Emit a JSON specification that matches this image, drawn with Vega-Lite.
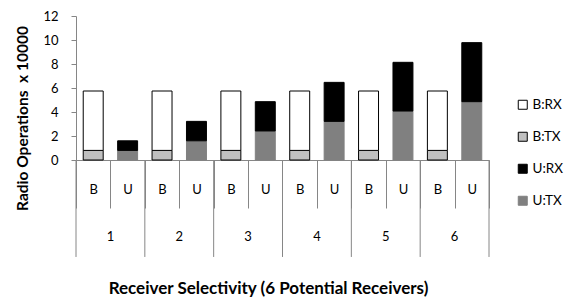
{
  "$schema": "https://vega.github.io/schema/vega-lite/v6.json",
  "width": 413,
  "height": 144,
  "autosize": {"type": "none"},
  "padding": {"left": 76, "top": 16, "right": 80, "bottom": 137},
  "background": "white",
  "config": {
    "view": {"stroke": null},
    "font": "Lato",
    "axis": {"labelFont": "Lato", "titleFont": "Lato", "grid": false},
    "axisY": {"tickCount": 7, "labelOverlap": false, "tickSize": 5, "tickColor": "#868686", "domainColor": "#868686", "labelPadding": 13, "labelFontSize": 13, "labelColor": "#000000"},
    "legend": {"labelFont": "Lato"}
  },
  "data": {
    "values": [
      {"group": 1, "sel": "B", "cat": "1B", "series": "B:TX", "value": 0.8},
      {"group": 1, "sel": "B", "cat": "1B", "series": "B:RX", "value": 4.95},
      {"group": 1, "sel": "U", "cat": "1U", "series": "U:TX", "value": 0.8},
      {"group": 1, "sel": "U", "cat": "1U", "series": "U:RX", "value": 0.8},
      {"group": 2, "sel": "B", "cat": "2B", "series": "B:TX", "value": 0.8},
      {"group": 2, "sel": "B", "cat": "2B", "series": "B:RX", "value": 4.95},
      {"group": 2, "sel": "U", "cat": "2U", "series": "U:TX", "value": 1.6},
      {"group": 2, "sel": "U", "cat": "2U", "series": "U:RX", "value": 1.62},
      {"group": 3, "sel": "B", "cat": "3B", "series": "B:TX", "value": 0.8},
      {"group": 3, "sel": "B", "cat": "3B", "series": "B:RX", "value": 4.95},
      {"group": 3, "sel": "U", "cat": "3U", "series": "U:TX", "value": 2.42},
      {"group": 3, "sel": "U", "cat": "3U", "series": "U:RX", "value": 2.44},
      {"group": 4, "sel": "B", "cat": "4B", "series": "B:TX", "value": 0.8},
      {"group": 4, "sel": "B", "cat": "4B", "series": "B:RX", "value": 4.95},
      {"group": 4, "sel": "U", "cat": "4U", "series": "U:TX", "value": 3.22},
      {"group": 4, "sel": "U", "cat": "4U", "series": "U:RX", "value": 3.25},
      {"group": 5, "sel": "B", "cat": "5B", "series": "B:TX", "value": 0.8},
      {"group": 5, "sel": "B", "cat": "5B", "series": "B:RX", "value": 4.95},
      {"group": 5, "sel": "U", "cat": "5U", "series": "U:TX", "value": 4.08},
      {"group": 5, "sel": "U", "cat": "5U", "series": "U:RX", "value": 4.06},
      {"group": 6, "sel": "B", "cat": "6B", "series": "B:TX", "value": 0.8},
      {"group": 6, "sel": "B", "cat": "6B", "series": "B:RX", "value": 4.95},
      {"group": 6, "sel": "U", "cat": "6U", "series": "U:TX", "value": 4.86},
      {"group": 6, "sel": "U", "cat": "6U", "series": "U:RX", "value": 4.92}
    ]
  },
  "layer": [
    {
      "mark": {"type": "bar", "width": {"band": 0.58}, "strokeWidth": 1},
      "encoding": {
        "x": {
          "field": "cat", "type": "nominal", "sort": null,
          "scale": {"paddingInner": 0, "paddingOuter": 0},
          "axis": {
            "title": "Receiver Selectivity (6 Potential Receivers)",
            "labelExpr": "datum.value ? substring(datum.value, 1) : ''",
            "labelAngle": 0,
            "tickBand": "extent",
            "tickSize": 48,
            "tickColor": "#868686",
            "domainColor": "#868686",
            "labelBaseline": "middle",
            "labelPadding": -19,
            "labelFontSize": 13,
            "labelColor": "#000000",
            "titleFontSize": 17,
            "titleFontWeight": "bold",
            "titleColor": "#000000",
            "titleX": 192,
            "titleY": 120
          }
        },
        "y": {
          "field": "value", "type": "quantitative", "stack": "zero",
          "scale": {"domain": [0, 12]},
          "axis": {
            "values": [0, 2, 4, 6, 8, 10, 12],
            "labelOverlap": false,
            "title": "Radio Operations\u00a0 x 10000",
            "titleFontWeight": "bold",
            "titleFontSize": 15.5,
            "titleColor": "#000000",
            "titleY": 102,
            "titlePadding": 12
          }
        },
        "fill": {
          "field": "series", "type": "nominal",
          "scale": {"domain": ["B:RX", "B:TX", "U:RX", "U:TX"], "range": ["#ffffff", "#c0c0c0", "#000000", "#808080"]},
          "legend": {"title": null, "orient": "none", "legendX": 440, "legendY": 82, "symbolType": "square", "symbolSize": 81, "symbolStrokeWidth": 1, "labelFontSize": 13.5, "labelColor": "#000000", "rowPadding": 17, "labelOffset": 3}
        },
        "stroke": {
          "field": "series", "type": "nominal",
          "scale": {"domain": ["B:RX", "B:TX", "U:RX", "U:TX"], "range": ["#000000", "#000000", "#000000", "#808080"]},
          "legend": {"title": null, "orient": "none", "legendX": 440, "legendY": 82, "symbolType": "square", "symbolSize": 81, "symbolStrokeWidth": 1, "labelFontSize": 13.5, "labelColor": "#000000", "rowPadding": 17, "labelOffset": 3}
        },
        "order": {"field": "series", "sort": "descending"}
      }
    },
    {
      "transform": [{"filter": "datum.series == 'B:RX'"}],
      "mark": {"type": "rule", "color": "#868686"},
      "encoding": {
        "x": {"field": "cat", "type": "nominal", "sort": null, "bandPosition": 0},
        "y": {"datum": 0},
        "y2": {"datum": -8.08}
      }
    },
    {
      "transform": [{"filter": "datum.series == 'U:RX' && datum.group == 6"}],
      "mark": {"type": "rule", "color": "#868686"},
      "encoding": {
        "x": {"field": "cat", "type": "nominal", "sort": null, "bandPosition": 1},
        "y": {"datum": 0},
        "y2": {"datum": -8.08}
      }
    },
    {
      "transform": [{"filter": "datum.series == 'B:RX'"}],
      "mark": {"type": "text", "fontSize": 13, "color": "#000000", "baseline": "middle", "font": "Lato"},
      "encoding": {
        "x": {"field": "cat", "type": "nominal", "sort": null, "bandPosition": 1},
        "y": {"datum": -6.42},
        "text": {"field": "group", "type": "nominal"}
      }
    }
  ]
}
